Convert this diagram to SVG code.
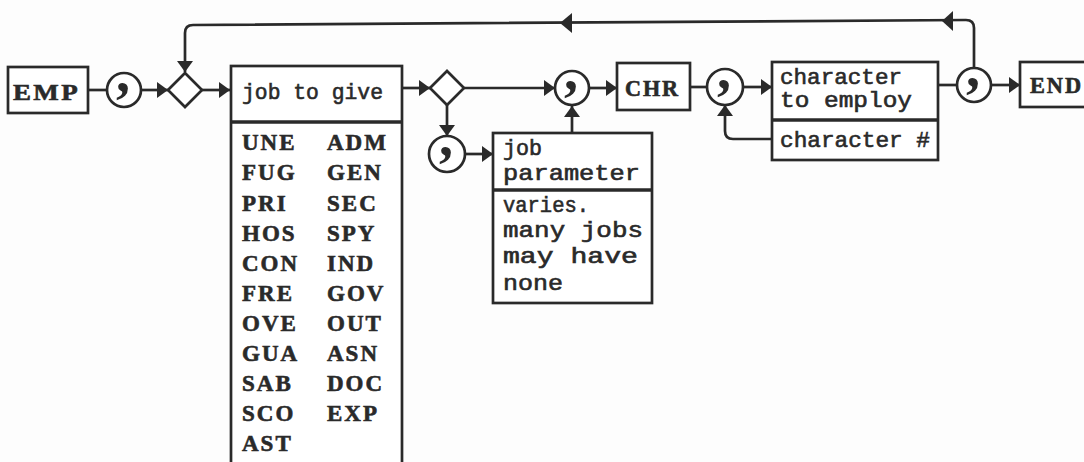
<svg xmlns="http://www.w3.org/2000/svg" width="1084" height="462" viewBox="0 0 1084 462">
<style>
.ln{stroke:#2a2a2a;stroke-width:2.7;fill:none}
.bx{fill:#fff;stroke:#2a2a2a;stroke-width:2.7}
.dv{stroke:#2a2a2a;stroke-width:3.5}
.b{font-family:"Liberation Serif",serif;font-weight:bold;font-size:23px;letter-spacing:2px;fill:#2a2a2a;stroke:#2a2a2a;stroke-width:0.6}
.t{font-family:"Liberation Mono",monospace;font-size:22px;fill:#2a2a2a;stroke:#2a2a2a;stroke-width:0.6}
.cm{font-family:"Liberation Serif",serif;font-weight:bold;font-size:56px;text-anchor:middle;fill:#2a2a2a}
.ah{fill:#2a2a2a}
</style>
<defs>
<marker id="a" markerWidth="11" markerHeight="16" refX="11" refY="8" orient="auto" markerUnits="userSpaceOnUse"><path d="M0,0 L11,8 L0,16 z" class="ah"/></marker>
</defs>
<rect width="1084" height="462" fill="#fdfdfd"/>

<g id="connectors">
<line class="ln" x1="88" y1="90" x2="107" y2="90"/>
<line class="ln" x1="141" y1="90" x2="168" y2="90" marker-end="url(#a)"/>
<line class="ln" x1="202" y1="90" x2="230" y2="90" marker-end="url(#a)"/>
<line class="ln" x1="402" y1="88" x2="430" y2="88" marker-end="url(#a)"/>
<line class="ln" x1="464" y1="88" x2="555" y2="88" marker-end="url(#a)"/>
<line class="ln" x1="447" y1="105" x2="447" y2="136" marker-end="url(#a)"/>
<line class="ln" x1="465" y1="154" x2="493" y2="154" marker-end="url(#a)"/>
<line class="ln" x1="572" y1="133" x2="572" y2="106" marker-end="url(#a)"/>
<line class="ln" x1="590" y1="88" x2="617" y2="88" marker-end="url(#a)"/>
<line class="ln" x1="690" y1="87" x2="707" y2="87"/>
<line class="ln" x1="743" y1="87" x2="772" y2="87" marker-end="url(#a)"/>
<path class="ln" d="M772,139 H733 Q725,139 725,131 V105" marker-end="url(#a)"/>
<line class="ln" x1="938" y1="85" x2="957" y2="85"/>
<line class="ln" x1="991" y1="85" x2="1020" y2="85" marker-end="url(#a)"/>
<path class="ln" d="M974,68 V28 Q974,20 966,20 L193,25 Q185,25 185,33 V72" marker-end="url(#a)"/>
<polygon class="ah" points="560,23 572,13 572,33"/>
<polygon class="ah" points="942,21 953,11 953,31"/>
</g>

<g id="emp">
<rect class="bx" x="8" y="67" width="80" height="46"/>
<text class="b" x="13" y="100" textLength="67" lengthAdjust="spacingAndGlyphs">EMP</text>
</g>
<g id="sep1"><circle class="bx" cx="124" cy="90" r="17"/><text class="cm" x="123" y="91">,</text></g>
<g id="choice1"><polygon class="bx" points="168,90 185,73 202,90 185,107"/></g>

<g id="job-to-give">
<rect class="bx" x="231" y="66" width="171" height="420"/>
<line class="dv" x1="231" y1="122" x2="402" y2="122"/>
<text class="t" x="242" y="99" textLength="141" lengthAdjust="spacingAndGlyphs">job to give</text>
<text class="b" x="242" y="150">UNE</text><text class="b" x="327" y="150">ADM</text>
<text class="b" x="242" y="180">FUG</text><text class="b" x="327" y="180">GEN</text>
<text class="b" x="242" y="211">PRI</text><text class="b" x="327" y="211">SEC</text>
<text class="b" x="242" y="241">HOS</text><text class="b" x="327" y="241">SPY</text>
<text class="b" x="242" y="271">CON</text><text class="b" x="327" y="271">IND</text>
<text class="b" x="242" y="301">FRE</text><text class="b" x="327" y="301">GOV</text>
<text class="b" x="242" y="331">OVE</text><text class="b" x="327" y="331">OUT</text>
<text class="b" x="242" y="361">GUA</text><text class="b" x="327" y="361">ASN</text>
<text class="b" x="242" y="391">SAB</text><text class="b" x="327" y="391">DOC</text>
<text class="b" x="242" y="421">SCO</text><text class="b" x="327" y="421">EXP</text>
<text class="b" x="242" y="451">AST</text>
</g>

<g id="choice2"><polygon class="bx" points="430,88 447,71 464,88 447,105"/></g>
<g id="sep-param"><circle class="bx" cx="447" cy="154" r="18"/><text class="cm" x="446" y="155">,</text></g>

<g id="job-parameter">
<rect class="bx" x="493" y="133" width="159" height="170"/>
<line class="dv" x1="493" y1="190" x2="652" y2="190"/>
<text class="t" x="503" y="155" textLength="39" lengthAdjust="spacingAndGlyphs">job</text>
<text class="t" x="503" y="180" textLength="137" lengthAdjust="spacingAndGlyphs">parameter</text>
<text class="t" x="503" y="212" textLength="86" lengthAdjust="spacingAndGlyphs">varies.</text>
<text class="t" x="503" y="237" textLength="140" lengthAdjust="spacingAndGlyphs">many jobs</text>
<text class="t" x="503" y="263" textLength="135" lengthAdjust="spacingAndGlyphs">may have</text>
<text class="t" x="503" y="290" textLength="60" lengthAdjust="spacingAndGlyphs">none</text>
</g>

<g id="sep2"><circle class="bx" cx="572" cy="88" r="17"/><text class="cm" x="571" y="89">,</text></g>

<g id="chr">
<rect class="bx" x="617" y="63" width="73" height="47"/>
<text class="b" x="625" y="96" textLength="55" lengthAdjust="spacingAndGlyphs">CHR</text>
</g>
<g id="sep3"><circle class="bx" cx="725" cy="87" r="18"/><text class="cm" x="724" y="88">,</text></g>

<g id="character">
<rect class="bx" x="772" y="62" width="166" height="98"/>
<line class="dv" x1="772" y1="120" x2="938" y2="120"/>
<text class="t" x="780" y="84" font-size="21" textLength="122" lengthAdjust="spacingAndGlyphs">character</text>
<text class="t" x="780" y="107" font-size="21" textLength="132" lengthAdjust="spacingAndGlyphs">to employ</text>
<text class="t" x="780" y="147" textLength="150" lengthAdjust="spacingAndGlyphs">character #</text>
</g>

<g id="sep4"><circle class="bx" cx="974" cy="85" r="17"/><text class="cm" x="973" y="86">,</text></g>

<g id="end">
<rect class="bx" x="1020" y="62" width="80" height="45"/>
<text class="b" x="1030" y="93" textLength="53" lengthAdjust="spacingAndGlyphs">END</text>
</g>
</svg>
